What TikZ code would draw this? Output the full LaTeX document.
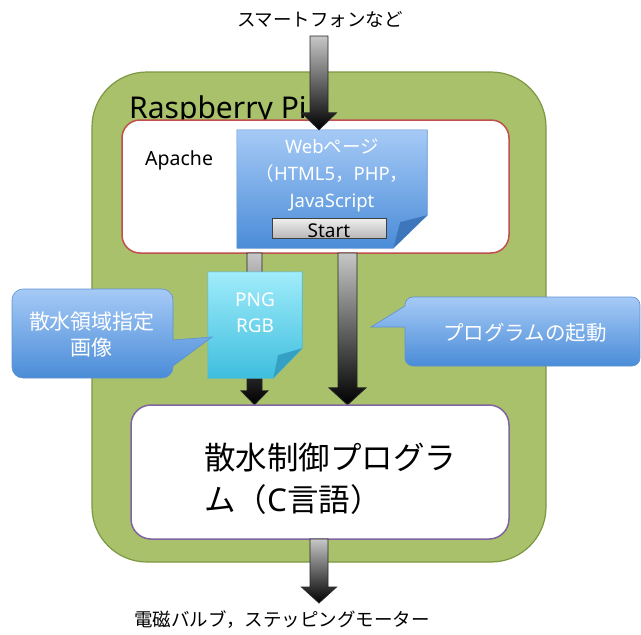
\documentclass[tikz,border=0pt]{standalone}
\usepackage{fontspec}
\setmainfont{Noto Sans CJK JP}
\newfontfamily\lat{Noto Sans}
\usetikzlibrary{calc}
\definecolor{rpigreen}{RGB}{169,193,106}
\definecolor{rpiedge}{RGB}{125,152,66}
\definecolor{apred}{RGB}{192,80,77}
\definecolor{progpurple}{RGB}{128,100,162}
\definecolor{bluetop}{RGB}{166,202,246}
\definecolor{bluebot}{RGB}{74,140,216}
\definecolor{blueedge}{RGB}{95,145,210}
\definecolor{bluefold}{RGB}{62,118,188}
\definecolor{cyantop}{RGB}{160,236,250}
\definecolor{cyanbot}{RGB}{62,190,222}
\definecolor{cyanedge}{RGB}{80,185,215}
\definecolor{cyanfold}{RGB}{52,160,196}
\newcommand{\blkarrow}[5]{%
  \shade[draw=black!85, line width=0.8pt, top color=black!22, bottom color=black]
  let \p1=(#1), \p2=(#2) in
  (\x1-#3,\y1) -- (\x1+#3,\y1) -- (\x1+#3,\y2+#5) -- (\x1+#4,\y2+#5) -- (\x1,\y2)
  -- (\x1-#4,\y2+#5) -- (\x1-#3,\y2+#5) -- cycle;}
\tikzset{
  area/.style={inner sep=0pt},
  txt/.style={inner sep=0pt, font=\fontsize{18.5}{22}\selectfont},
  wtxt/.style={inner sep=0pt, text=white, align=center},
  bluefill/.style={top color=bluetop, bottom color=bluebot, draw=blueedge, line width=0.6pt},
  cyanfill/.style={top color=cyantop, bottom color=cyanbot, draw=cyanedge, line width=0.6pt},
}
\begin{document}
\begin{tikzpicture}[x=1pt,y=-1pt]
\useasboundingbox (0,0) rectangle (641,635);
% Raspberry Pi board
\node[area, minimum width=454pt, minimum height=490pt, rounded corners=55pt,
      fill=rpigreen, draw=rpiedge, line width=1.2pt] (rpi) at (319,317) {};
\node[anchor=base west, inner sep=0pt, font=\lat\fontsize{30}{32}\selectfont] (rpit) at (129,118) {Raspberry Pi};
% Apache
\node[area, minimum width=387pt, minimum height=133pt, rounded corners=18pt,
      fill=white, draw=apred, line width=1.5pt] (apache) at (315.5,186.5) {};
\node[txt, anchor=west, font=\lat\fontsize{19.5}{22}\selectfont] (apt) at (145,160) {Apache};
% arrows from Apache to program
\coordinate (l1) at (254.5,253);
\coordinate (r1) at (347.5,253);
\node[area, minimum width=378pt, minimum height=134pt] (progarea) at (320,472) {};
\coordinate (l2) at (l1 |- progarea.north);
\coordinate (r2) at (r1 |- progarea.north);
\blkarrow{l1}{l2}{7.5pt}{13.5pt}{14pt}
\blkarrow{r1}{r2}{9.5pt}{18.5pt}{17pt}
% Web page document
\node[area, minimum width=190pt, minimum height=118pt] (web) at (332,189) {};
\shade[bluefill] (web.north west) -- (web.north east) -- ($(web.south east)+(0,-33)$)
  -- ($(web.south east)+(-34,0)$) -- (web.south west) -- cycle;
\fill[bluefold] ($(web.south east)+(-34,0)$) -- ($(web.south east)+(-27,-26)$)
  -- ($(web.south east)+(0,-33)$) -- cycle;
\node[wtxt, font=\fontsize{18.5}{27}\selectfont] (webt) at (332,175)
  {{\lat Web}ページ\\（{\lat HTML5}，{\lat PHP}，\\{\lat JavaScript}};
\node[area, minimum width=114pt, minimum height=20pt, draw=black!75, line width=0.8pt,
      top color=white!94!black, bottom color=black!28] (start) at (329,228) {};
\node[txt, font=\lat\fontsize{19}{22}\selectfont] (startt) at (329,231) {Start};
% top arrow
\node[txt] (src) at (320,20) {スマートフォンなど};
\coordinate (t1) at (319,36);
\coordinate (t2) at (t1 |- web.north);
\blkarrow{t1}{t2}{9pt}{17.5pt}{17pt}
% PNG document
\node[area, minimum width=94pt, minimum height=106pt] (png) at (255,325) {};
\shade[cyanfill] (png.north west) -- (png.north east) -- ($(png.south east)+(0,-30)$)
  -- ($(png.south east)+(-29,0)$) -- (png.south west) -- cycle;
\fill[cyanfold] ($(png.south east)+(-29,0)$) -- ($(png.south east)+(-24,-23)$)
  -- ($(png.south east)+(0,-30)$) -- cycle;
\node[wtxt, font=\lat\fontsize{19}{26}\selectfont] (pngt) at (255,313) {PNG\\RGB};
% callouts
\coordinate (ctip1) at (212,337);
\shade[bluefill] (173,340) -- (ctip1) -- (173,366) [rounded corners=11pt] -- (173,378) -- (12,378)
  -- (12,289) -- (173,289) [sharp corners] -- (173,340) -- cycle;
\node[wtxt, font=\fontsize{21}{26}\selectfont] (c1t) at (92,335) {散水領域指定\\画像};
\coordinate (ctip2) at (371,327);
\shade[bluefill] (405,327) -- (ctip2) -- (405,306) [rounded corners=8pt] -- (405,297) -- (640,297)
  -- (640,366) -- (405,366) [sharp corners] -- (405,327) -- cycle;
\node[wtxt, font=\fontsize{20.5}{24}\selectfont] (c2t) at (525,333) {プログラムの起動};
% program
\node[area, minimum width=378pt, minimum height=134pt, rounded corners=20pt,
      fill=white, draw=progpurple, line width=1.5pt] (prog) at (320,472) {};
\node[anchor=west, align=left, inner sep=0pt, font=\fontsize{31.5}{42}\selectfont] (progt) at (204,479)
  {散水制御プログラ\\ム（{\lat C}言語）};
% bottom arrow
\coordinate (b1) at (319,539);
\node[txt] (dst) at (282,620) {電磁バルブ，ステッピングモーター};
\coordinate (b2) at (319,603);
\blkarrow{b1}{b2}{9pt}{17.5pt}{16pt}
\end{tikzpicture}
\end{document}
